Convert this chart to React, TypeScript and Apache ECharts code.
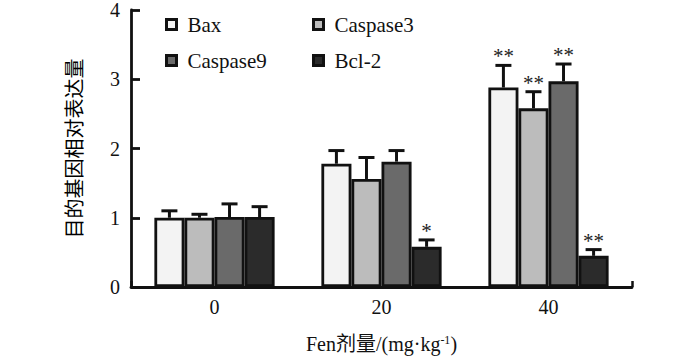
import React, { useEffect, useRef } from "react";
import * as echarts from "echarts";

const categories = ["0", "20", "40"];
const genes = ["Bax", "Caspase3", "Caspase9", "Bcl-2"];
const baxValues = [1.0, 1.78, 2.88];
const baxErrors = [0.1, 0.19, 0.32];
const casp3Values = [1.0, 1.56, 2.58];
const casp3Errors = [0.05, 0.31, 0.24];
const casp9Values = [1.01, 1.81, 2.97];
const casp9Errors = [0.19, 0.16, 0.25];
const bcl2Values = [1.01, 0.58, 0.45];
const bcl2Errors = [0.15, 0.1, 0.09];
const baxSig = ["", "", "**"];
const casp3Sig = ["", "", "**"];
const casp9Sig = ["", "", "**"];
const bcl2Sig = ["", "*", "**"];
const yTicks = [0, 1, 2, 3, 4];

const colors = ["#f3f3f3", "#bcbcbc", "#6a6a6a", "#2b2b2b"];
const SERIF = "Liberation Serif, Noto Sans CJK SC, serif";
const CJK = "Noto Sans CJK SC, sans-serif";
const GAP = 0.28;

export default function App() {
  const ref = useRef<HTMLDivElement>(null);
  useEffect(() => {
    document.body.style.margin = "0";
    if (!ref.current) return;
    const chart = echarts.init(ref.current, null, { renderer: "svg" });
    const values = [baxValues, casp3Values, casp9Values, bcl2Values];
    const errors = [baxErrors, casp3Errors, casp9Errors, bcl2Errors];
    const sigs = [baxSig, casp3Sig, casp9Sig, bcl2Sig];
    const errData: any[] = [];
    genes.forEach((g, gi) => {
      categories.forEach((c, ci) => {
        errData.push([ci, gi, values[gi][ci], errors[gi][ci], sigs[gi][ci]]);
      });
    });
    const barSeries = genes.map((g, gi) => ({
      name: g,
      type: "bar",
      xAxisIndex: 0,
      yAxisIndex: 0,
      data: values[gi],
      barGap: "0%",
      barCategoryGap: GAP * 100 + "%",
      itemStyle: { color: colors[gi], borderColor: "#111", borderWidth: 2.8 },
      z: 2,
    }));
    const legendBase = {
      orient: "vertical",
      top: 14,
      padding: 0,
      itemWidth: 10,
      itemHeight: 10,
      itemGap: 15,
      icon: "rect",
      itemStyle: { borderColor: "#111", borderWidth: 3 },
      formatter: (name: string) => "{g|}{t|" + name + "}",
      textStyle: {
        fontFamily: SERIF,
        fontSize: 21,
        color: "#111",
        lineHeight: 21,
        rich: {
          g: { width: 6, fontSize: 21, lineHeight: 21 },
          t: { fontFamily: SERIF, fontSize: 21, lineHeight: 21, color: "#111" },
        },
      },
      selectedMode: false,
    };
    const option: any = {
      animation: false,
      grid: { left: 131, right: 68, top: 10, bottom: 70.5, containLabel: false },
      legend: [
        { ...legendBase, data: ["Bax", "Caspase9"], left: 165 },
        { ...legendBase, data: ["Caspase3", "Bcl-2"], left: 312 },
      ],
      xAxis: [
        {
          type: "category",
          data: categories,
          position: "bottom",
          axisLine: { lineStyle: { color: "#111", width: 2.8 } },
          axisTick: { show: false },
          axisLabel: { fontFamily: SERIF, fontSize: 20, color: "#111", margin: 10 },
          name: "Fen剂量/(mg·kg{sup|-1})",
          nameLocation: "middle",
          nameGap: 47,
          nameTextStyle: {
            fontFamily: SERIF,
            fontSize: 20,
            color: "#111",
            lineHeight: 20,
            rich: {
              sup: { fontFamily: SERIF, fontSize: 12, lineHeight: 12, verticalAlign: "top", color: "#111" },
            },
          },
        },
        {
          type: "value",
          min: 0,
          max: 1,
          interval: 1,
          position: "bottom",
          axisLine: { show: false },
          axisTick: { show: true, inside: true, length: 6, lineStyle: { color: "#111", width: 2.5 } },
          axisLabel: { show: false },
          splitLine: { show: false },
        },
      ],
      yAxis: {
        type: "value",
        min: yTicks[0],
        max: yTicks[yTicks.length - 1],
        interval: 1,
        axisLine: { show: true, lineStyle: { color: "#111", width: 2.8 } },
        axisTick: { show: true, inside: true, length: 9, lineStyle: { color: "#111", width: 2.8 } },
        axisLabel: { fontFamily: SERIF, fontSize: 20, color: "#111", margin: 11 },
        splitLine: { show: false },
        name: "目的基因相对表达量",
        nameLocation: "middle",
        nameGap: 48,
        nameTextStyle: { fontFamily: CJK, fontSize: 20, color: "#000" },
      },
      series: [
        ...barSeries,
        {
          type: "custom",
          xAxisIndex: 0,
          yAxisIndex: 0,
          dimensions: ["cat", "gene", "val", "err", "sig"],
          encode: { x: 0, y: 2 },
          data: errData,
          z: 5,
          renderItem: (params: any, api: any) => {
            const ci = api.value(0);
            const gi = api.value(1);
            const v = api.value(2);
            const e = api.value(3);
            const sig = errData[params.dataIndex][4];
            const band = api.size([1, 0])[0];
            const bw = (band * (1 - GAP)) / 4;
            const base = api.coord([ci, v]);
            const top = api.coord([ci, v + e]);
            const x = base[0] + (gi - 1.5) * bw;
            const capHalf = 8;
            const children: any[] = [
              {
                type: "line",
                shape: { x1: x, y1: base[1], x2: x, y2: top[1] },
                style: { stroke: "#111", lineWidth: 3 },
              },
              {
                type: "line",
                shape: { x1: x - capHalf, y1: top[1], x2: x + capHalf, y2: top[1] },
                style: { stroke: "#111", lineWidth: 3 },
              },
            ];
            if (sig) {
              children.push({
                type: "text",
                x: x,
                y: top[1] - 9,
                style: {
                  text: sig,
                  fill: "#222",
                  font: "21px Liberation Serif, serif",
                  align: "center",
                  verticalAlign: "middle",
                },
              });
            }
            return { type: "group", children };
          },
        },
      ],
    };
    chart.setOption(option);
    return () => chart.dispose();
  }, []);
  return <div ref={ref} style={{ position: "absolute", left: 0, top: 0, width: 700, height: 359 }} />;
}
